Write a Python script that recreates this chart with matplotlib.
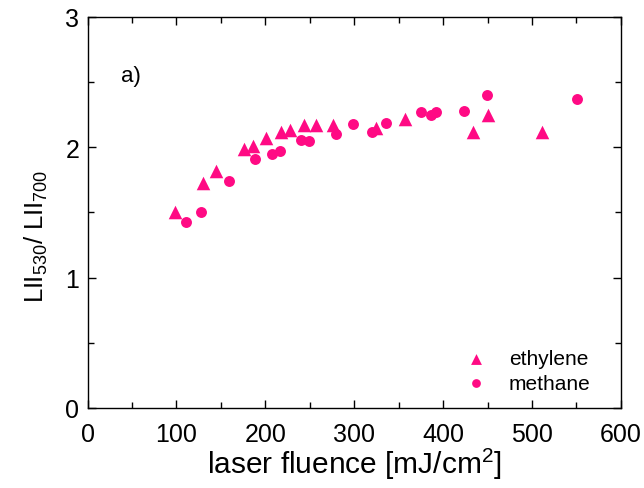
import matplotlib
matplotlib.use("Agg")
from matplotlib import pyplot as plt
from matplotlib.ticker import MultipleLocator

plt.rcParams['font.family'] = ['Liberation Sans', 'DejaVu Sans']
plt.rcParams['mathtext.fontset'] = 'custom'
plt.rcParams['mathtext.rm'] = 'Liberation Sans'
plt.rcParams['mathtext.it'] = 'Liberation Sans:italic'

# laser fluence [mJ/cm2] and LII530/LII700 ratio
eth_x = [98, 130, 144, 176, 186, 201, 218, 228, 244, 257, 276, 325, 357, 434, 450, 511]
eth_y = [1.50, 1.73, 1.82, 1.99, 2.01, 2.07, 2.12, 2.13, 2.17, 2.17, 2.17, 2.15, 2.22, 2.12, 2.25, 2.12]
met_x = [111, 128, 159, 188, 207, 216, 240, 249, 280, 299, 320, 336, 375, 386, 392, 423, 449, 551]
met_y = [1.43, 1.50, 1.74, 1.91, 1.95, 1.97, 2.06, 2.05, 2.10, 2.18, 2.12, 2.19, 2.27, 2.25, 2.27, 2.28, 2.40, 2.37]

color = '#ff0a84'

fig = plt.figure(figsize=(6.44, 4.89), dpi=100)
ax = fig.add_axes([0.136, 0.1636, 0.828, 0.7996])

ax.scatter(eth_x, eth_y, marker='^', s=95, color=color, linewidths=0, label='ethylene')
ax.scatter(met_x, met_y, marker='o', s=62, color=color, linewidths=0, label='methane')

ax.set_xlim(0, 600)
ax.set_ylim(0, 3)
ax.xaxis.set_major_locator(MultipleLocator(100))
ax.xaxis.set_minor_locator(MultipleLocator(50))
ax.yaxis.set_major_locator(MultipleLocator(1))
ax.yaxis.set_minor_locator(MultipleLocator(0.5))
ax.tick_params(which='both', direction='in', top=True, right=True, labelsize=18, width=1)
ax.tick_params(which='major', length=6)
ax.tick_params(which='minor', length=4)
ax.tick_params(axis='x', pad=10)
ax.tick_params(axis='y', pad=6)
for sp in ax.spines.values():
    sp.set_linewidth(1)

ax.set_xlabel('laser fluence [mJ/cm$^2$]', fontsize=21.5, labelpad=0)
ax.set_ylabel('LII$_{530}$/ LII$_{700}$', fontsize=18.5)
ax.yaxis.set_label_coords(-0.071, 0.442)

ax.text(0.063, 0.85, 'a)', transform=ax.transAxes, fontsize=16, va='center')

ax.legend(loc='lower right', frameon=False, fontsize=15, handletextpad=0.58,
          labelspacing=0.25, borderaxespad=0, bbox_to_anchor=(0.959, 0.018),
          markerscale=0.8)

fig.savefig('out.png', dpi=100)
